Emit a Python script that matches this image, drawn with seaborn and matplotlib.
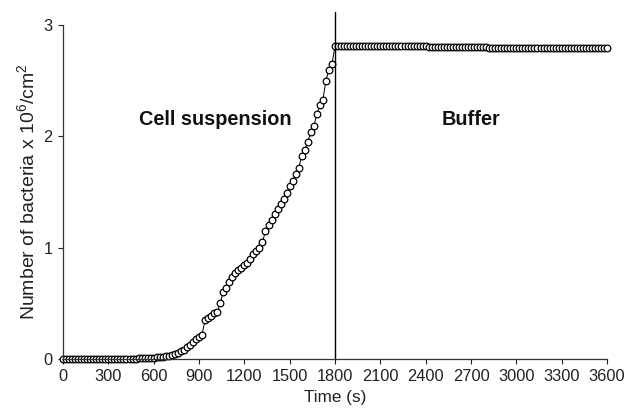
import numpy as np
import pandas as pd
import matplotlib
matplotlib.use("Agg")
import matplotlib.pyplot as plt
import seaborn as sns

# time grid (s), one reading every 20 s
time_start, time_step = 0, 20

# number of bacteria (x 10^6 / cm^2)
lag_phase = [0.0] * 25                                   # 0 .. 480 s
early_phase = [0.01, 0.01, 0.01, 0.01, 0.01, 0.012, 0.015, 0.015]   # 500 .. 640 s
growth_phase = [
    0.02, 0.025, 0.03, 0.035, 0.045, 0.055, 0.07, 0.085, 0.11, 0.13,
    0.155, 0.18, 0.2, 0.22, 0.35, 0.37, 0.39, 0.41, 0.42, 0.5,
    0.6, 0.64, 0.69, 0.74, 0.77, 0.8, 0.82, 0.84, 0.86, 0.9,
    0.94, 0.97, 1.0, 1.05, 1.15, 1.2, 1.25, 1.3, 1.35, 1.39,
    1.44, 1.49, 1.55, 1.6, 1.66, 1.72, 1.82, 1.88, 1.95, 2.04,
    2.09, 2.2, 2.28, 2.33, 2.5, 2.6, 2.65, 2.81,
]                                                        # 660 .. 1800 s
buffer_phase = (
    [2.81, 2.81, 2.81, 2.81, 2.81, 2.81, 2.81, 2.81, 2.81, 2.81,
     2.81, 2.81, 2.81, 2.81, 2.81, 2.81, 2.81, 2.81, 2.81, 2.81,
     2.81, 2.81, 2.81, 2.81, 2.81, 2.81, 2.81, 2.81, 2.81, 2.81]   # 1820 .. 2400
    + [2.80, 2.80, 2.80, 2.80, 2.80, 2.80, 2.80, 2.80, 2.80, 2.80,
       2.80, 2.80, 2.80, 2.80, 2.80, 2.80, 2.80, 2.80, 2.80, 2.80]  # 2420 .. 2800
    + [2.79] * 40                                                  # 2820 .. 3600
)

bacteria = lag_phase + early_phase + growth_phase + buffer_phase
time_s = time_start + time_step * np.arange(len(bacteria))
df = pd.DataFrame({"time": time_s, "bacteria": bacteria})

switch_time = 1800
x_ticks = list(range(0, 3601, 300))
y_ticks = [0, 1, 2, 3]

sns.set_style("ticks")
plt.rcParams["font.family"] = ["Liberation Sans", "DejaVu Sans"]
plt.rcParams["mathtext.fontset"] = "custom"
plt.rcParams["mathtext.rm"] = "Liberation Sans"
plt.rcParams["mathtext.it"] = "Liberation Sans:italic"

fig = plt.figure(figsize=(6.27, 4.11), dpi=100)
ax = fig.add_axes([0.1005, 0.1265, 0.8676, 0.8127])

sns.lineplot(data=df, x="time", y="bacteria", ax=ax, color="black", lw=0.7,
             marker="o", markersize=4.8, markerfacecolor="white",
             markeredgecolor="black", markeredgewidth=0.9, clip_on=False)

ax.axvline(switch_time, ymin=0, ymax=1.04, color="black", lw=1.0, clip_on=False)

ax.text(1010, 2.15, "Cell suspension", ha="center", va="center",
        fontsize=14.3, fontweight="bold", color="#111111")
ax.text(2700, 2.15, "Buffer", ha="center", va="center",
        fontsize=14.3, fontweight="bold", color="#111111")

ax.set_xlim(0, 3600)
ax.set_ylim(0, 3)
ax.set_xticks(x_ticks)
ax.set_yticks(y_ticks)
ax.tick_params(labelsize=11.8, length=3.5, width=0.8, colors="#222222", pad=4)
ax.set_xlabel("Time (s)", fontsize=12.3, labelpad=4, color="#222222")
ax.set_ylabel("Number of bacteria x 10$^6$/cm$^2$", fontsize=14, labelpad=4,
              color="#222222")

sns.despine(ax=ax)
for side in ["left", "bottom"]:
    ax.spines[side].set_linewidth(0.9)
    ax.spines[side].set_color("#333333")

fig.savefig("out.png", dpi=100)
